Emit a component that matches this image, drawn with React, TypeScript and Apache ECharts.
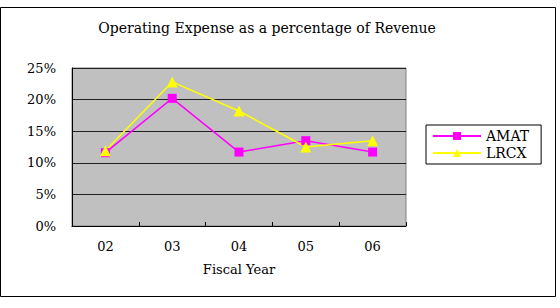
import React, { useEffect, useRef } from "react";
import * as echarts from "echarts";

const categories = ["02", "03", "04", "05", "06"];
const amat = [11.6, 20.2, 11.7, 13.5, 11.7];
const lrcx = [11.9, 22.8, 18.2, 12.5, 13.5];
const yTicks = [0, 5, 10, 15, 20, 25];

const FONT = "'DejaVu Serif', 'Liberation Serif', serif";

export default function App() {
  const ref = useRef<HTMLDivElement>(null);
  useEffect(() => {
    if (!ref.current) return;
    const chart = echarts.init(ref.current, undefined, { renderer: "svg" });
    chart.setOption({
      animation: false,
      backgroundColor: "#ffffff",
      textStyle: { fontFamily: FONT, color: "#000" },
      title: {
        text: "Operating Expense as a percentage of Revenue",
        left: 262,
        textAlign: "center",
        top: 16,
        textStyle: { fontFamily: FONT, fontSize: 14, fontWeight: "normal", color: "#000" },
      },
      graphic: [
        {
          type: "rect",
          shape: { x: 0.5, y: 7.5, width: 555, height: 289 },
          style: { fill: "none", stroke: "#000", lineWidth: 1 },
          silent: true,
        },
      ],
      legend: {
        orient: "vertical",
        left: 426,
        top: 125,
        padding: [4, 12, 4, 6],
        itemGap: 3,
        itemWidth: 48,
        itemHeight: 10,
        borderColor: "#000",
        borderWidth: 1,
        backgroundColor: "#fff",
        textStyle: { fontFamily: FONT, fontSize: 14, color: "#000" },
        data: ["AMAT", "LRCX"],
      },
      grid: {
        left: 72,
        top: 68,
        width: 334,
        height: 158,
        show: true,
        backgroundColor: "#c0c0c0",
        borderColor: "#808080",
        borderWidth: 1,
      },
      xAxis: {
        type: "category",
        data: categories,
        boundaryGap: true,
        name: "Fiscal Year",
        nameLocation: "middle",
        nameGap: 37,
        nameTextStyle: { fontFamily: FONT, fontSize: 13, color: "#000" },
        axisLine: { lineStyle: { color: "#000" } },
        axisTick: { show: true, length: 4, inside: true, lineStyle: { color: "#000" } },
        axisLabel: { fontFamily: FONT, fontSize: 13, color: "#000", margin: 14 },
      },
      yAxis: {
        type: "value",
        min: yTicks[0],
        max: yTicks[yTicks.length - 1],
        interval: 5,
        axisLine: { show: true, lineStyle: { color: "#000" } },
        axisTick: { show: false },
        splitLine: { show: true, lineStyle: { color: "#202020", width: 1 } },
        axisLabel: {
          fontFamily: FONT,
          fontSize: 13,
          color: "#000",
          margin: 16,
          formatter: (v: number) => v + "%",
        },
      },
      series: [
        {
          name: "AMAT",
          type: "line",
          data: amat,
          symbol: "rect",
          symbolSize: 9,
          lineStyle: { color: "#ff00ff", width: 1.5 },
          itemStyle: { color: "#ff00ff" },
        },
        {
          name: "LRCX",
          type: "line",
          data: lrcx,
          symbol: "triangle",
          symbolSize: 11,
          lineStyle: { color: "#ffff00", width: 1.5 },
          itemStyle: { color: "#ffff00" },
        },
      ],
    });
    return () => chart.dispose();
  }, []);
  return (
    <div
      ref={ref}
      style={{ position: "fixed", left: 0, top: 0, width: 560, height: 308 }}
    />
  );
}
